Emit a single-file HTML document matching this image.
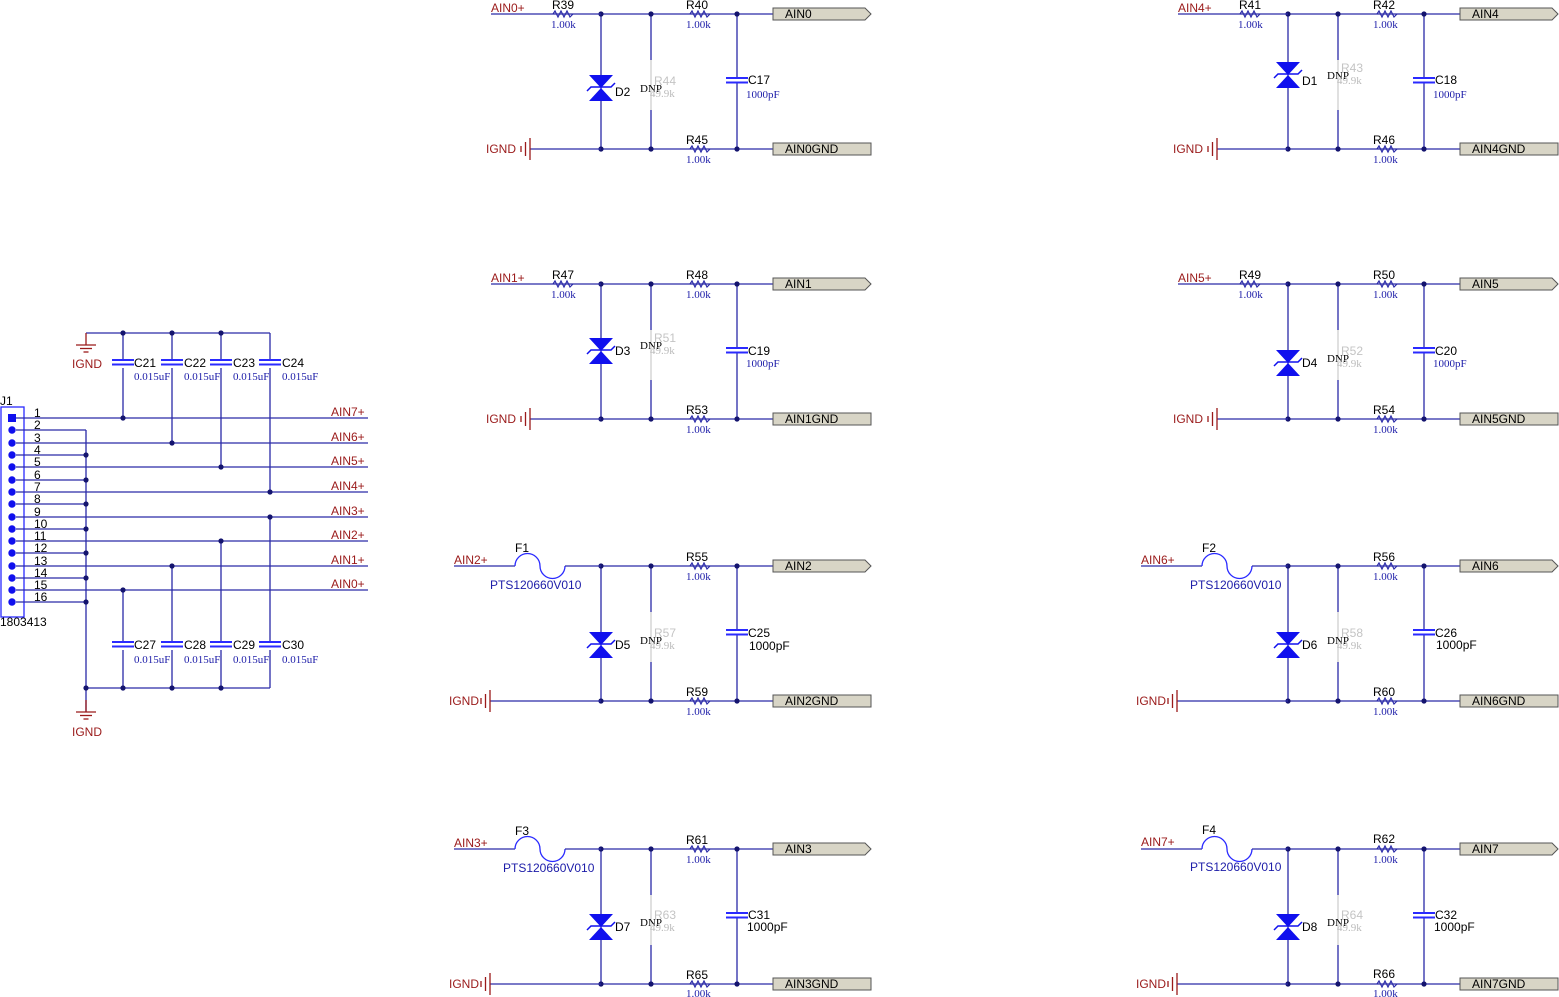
<!DOCTYPE html>
<html><head><meta charset="utf-8"><style>
body{margin:0;background:#fff}
svg{display:block}
text{font-family:"Liberation Sans",sans-serif;font-size:12px;fill:#000}
.r{fill:#9a1a1a}
.v{font-family:"Liberation Serif",serif;font-size:11px;fill:#1c1ca8}
.g{fill:#bbbbbb;font-family:"Liberation Serif",serif;font-size:11px}
.gs{fill:#c4c4c4;font-size:12px}
.d{font-family:"Liberation Serif",serif;font-size:11px}
.w{stroke:#2a2aa8;stroke-width:1.3;fill:none}
</style></head><body>
<svg width="1559" height="997" viewBox="0 0 1559 997" xmlns="http://www.w3.org/2000/svg">
<defs>
<g id="res"><polyline points="-10,0 -8,-3 -5,3 -2,-3 1,3 4,-3 7,3 10,0" fill="none" stroke="#2a2aa8" stroke-width="1.2"/></g>
<g id="dot"><circle r="2.6" fill="#14146e"/></g>
<g id="core">
 <line class="w" x1="601" y1="14" x2="773" y2="14"/>
 <line class="w" x1="601" y1="149" x2="773" y2="149"/>
 <line class="w" x1="601" y1="14" x2="601" y2="149"/>
 <line class="w" x1="651" y1="14" x2="651" y2="60"/>
 <line class="w" x1="651" y1="110" x2="651" y2="149"/>
 <line x1="651" y1="60" x2="651" y2="110" stroke="#d0d0d0" stroke-width="1.3"/>
 <line class="w" x1="737" y1="14" x2="737" y2="78"/>
 <line class="w" x1="737" y1="82" x2="737" y2="149"/>
 <line x1="726" y1="78" x2="748" y2="78" stroke="#2a2aff" stroke-width="2"/>
 <line x1="726" y1="82.5" x2="748" y2="82.5" stroke="#2a2aff" stroke-width="2"/>
 <use href="#res" x="700" y="14"/><use href="#res" x="700" y="149"/>
 <use href="#dot" x="601" y="14"/><use href="#dot" x="651" y="14"/><use href="#dot" x="737" y="14"/>
 <use href="#dot" x="601" y="149"/><use href="#dot" x="651" y="149"/><use href="#dot" x="737" y="149"/>
 <path d="M773,8 H865 L871,14 L865,20 H773 Z" fill="#d8d5c6" stroke="#555" stroke-width="1"/>
 <rect x="773" y="143" width="98" height="12" fill="#d8d5c6" stroke="#555" stroke-width="1"/>
</g>
<g id="rin">
 <line class="w" x1="491" y1="14" x2="601" y2="14"/>
 <use href="#res" x="563" y="14"/>
 <line class="w" x1="530" y1="149" x2="601" y2="149"/>
 <line x1="521" y1="146" x2="521" y2="152" stroke="#9a1a1a" stroke-width="1.3"/>
 <line x1="525.5" y1="142" x2="525.5" y2="156" stroke="#9a1a1a" stroke-width="1.3"/>
 <line x1="530" y1="138" x2="530" y2="160" stroke="#9a1a1a" stroke-width="1.3"/>
</g>
<g id="fin">
 <line class="w" x1="454" y1="14" x2="515" y2="14"/>
 <path d="M515,14 A12.5,12.5 0 0 1 540,14 A12.5,12.5 0 0 0 565,14" fill="none" stroke="#2a2aff" stroke-width="1.3"/>
 <line class="w" x1="565" y1="14" x2="601" y2="14"/>
 <line class="w" x1="490" y1="149" x2="601" y2="149"/>
 <line x1="481" y1="146" x2="481" y2="152" stroke="#9a1a1a" stroke-width="1.3"/>
 <line x1="485.5" y1="142" x2="485.5" y2="156" stroke="#9a1a1a" stroke-width="1.3"/>
 <line x1="490" y1="138" x2="490" y2="160" stroke="#9a1a1a" stroke-width="1.3"/>
</g>
<g id="dio">
 <polygon points="589,-13 613,-13 601,0" fill="#1010ee"/>
 <polygon points="589,13 613,13 601,0" fill="#1010ee"/>
 <polyline points="587,3 591,-1 611,-1 615,-5" fill="none" stroke="#1010ee" stroke-width="1.5"/>
</g>
<g id="gnd">
 <line x1="0" y1="0" x2="0" y2="12" stroke="#9a1a1a" stroke-width="1.3"/>
 <line x1="-10" y1="12" x2="10" y2="12" stroke="#9a1a1a" stroke-width="1.3"/>
 <line x1="-6" y1="15.5" x2="6" y2="15.5" stroke="#9a1a1a" stroke-width="1.3"/>
 <line x1="-2.5" y1="19" x2="2.5" y2="19" stroke="#9a1a1a" stroke-width="1.3"/>
</g>
<g id="cap">
 <line x1="-11" y1="-2" x2="11" y2="-2" stroke="#2a2aff" stroke-width="2"/>
 <line x1="-11" y1="2.5" x2="11" y2="2.5" stroke="#2a2aff" stroke-width="2"/>
</g>
</defs>

<g transform="translate(0,0)">
 <use href="#core"/><use href="#rin"/><use href="#dio" y="88"/>
 <text class="r" x="491" y="12">AIN0+</text><text x="552" y="9">R39</text><text class="v" x="551" y="28">1.00k</text>
 <text x="686" y="9">R40</text><text class="v" x="686" y="28">1.00k</text>
 <text x="615" y="96">D2</text><text class="d" x="640" y="92">DNP</text><text class="gs" x="654" y="85">R44</text><text class="g" x="650" y="97">49.9k</text>
 <text x="748" y="84">C17</text><text class="v" x="746" y="98">1000pF</text>
 <text class="r" x="486" y="153">IGND</text><text x="686" y="144">R45</text><text class="v" x="686" y="163">1.00k</text>
 <text x="785" y="18">AIN0</text><text x="785" y="153">AIN0GND</text>
</g>
<g transform="translate(0,270)">
 <use href="#core"/><use href="#rin"/><use href="#dio" y="81"/>
 <text class="r" x="491" y="12">AIN1+</text><text x="552" y="9">R47</text><text class="v" x="551" y="28">1.00k</text>
 <text x="686" y="9">R48</text><text class="v" x="686" y="28">1.00k</text>
 <text x="615" y="85">D3</text><text class="d" x="640" y="79">DNP</text><text class="gs" x="654" y="72">R51</text><text class="g" x="650" y="84">49.9k</text>
 <text x="748" y="85">C19</text><text class="v" x="746" y="97">1000pF</text>
 <text class="r" x="486" y="153">IGND</text><text x="686" y="144">R53</text><text class="v" x="686" y="163">1.00k</text>
 <text x="785" y="18">AIN1</text><text x="785" y="153">AIN1GND</text>
</g>
<g transform="translate(0,552)">
 <use href="#core"/><use href="#fin"/><use href="#dio" y="93"/>
 <text class="r" x="454" y="12">AIN2+</text><text x="515" y="0">F1</text><text style="fill:#1c1ca8" x="490" y="37">PTS120660V010</text>
 <text x="686" y="9">R55</text><text class="v" x="686" y="28">1.00k</text>
 <text x="615" y="97">D5</text><text class="d" x="640" y="92">DNP</text><text class="gs" x="654" y="85">R57</text><text class="g" x="650" y="97">49.9k</text>
 <text x="748" y="85">C25</text><text x="749" y="98">1000pF</text>
 <text class="r" x="449" y="153">IGND</text><text x="686" y="144">R59</text><text class="v" x="686" y="163">1.00k</text>
 <text x="785" y="18">AIN2</text><text x="785" y="153">AIN2GND</text>
</g>
<g transform="translate(0,835)">
 <use href="#core"/><use href="#fin"/><use href="#dio" y="92"/>
 <text class="r" x="454" y="12">AIN3+</text><text x="515" y="0">F3</text><text style="fill:#1c1ca8" x="503" y="37">PTS120660V010</text>
 <text x="686" y="9">R61</text><text class="v" x="686" y="28">1.00k</text>
 <text x="615" y="96">D7</text><text class="d" x="640" y="91">DNP</text><text class="gs" x="654" y="84">R63</text><text class="g" x="650" y="96">49.9k</text>
 <text x="748" y="84">C31</text><text x="747" y="96">1000pF</text>
 <text class="r" x="449" y="153">IGND</text><text x="686" y="144">R65</text><text class="v" x="686" y="162">1.00k</text>
 <text x="785" y="18">AIN3</text><text x="785" y="153">AIN3GND</text>
</g>

<g transform="translate(687,0)">
 <use href="#core"/><use href="#rin"/><use href="#dio" y="75"/>
 <text class="r" x="491" y="12">AIN4+</text><text x="552" y="9">R41</text><text class="v" x="551" y="28">1.00k</text>
 <text x="686" y="9">R42</text><text class="v" x="686" y="28">1.00k</text>
 <text x="615" y="85">D1</text><text class="d" x="640" y="79">DNP</text><text class="gs" x="654" y="72">R43</text><text class="g" x="650" y="84">49.9k</text>
 <text x="748" y="84">C18</text><text class="v" x="746" y="98">1000pF</text>
 <text class="r" x="486" y="153">IGND</text><text x="686" y="144">R46</text><text class="v" x="686" y="163">1.00k</text>
 <text x="785" y="18">AIN4</text><text x="785" y="153">AIN4GND</text>
</g>
<g transform="translate(687,270)">
 <use href="#core"/><use href="#rin"/><use href="#dio" y="93"/>
 <text class="r" x="491" y="12">AIN5+</text><text x="552" y="9">R49</text><text class="v" x="551" y="28">1.00k</text>
 <text x="686" y="9">R50</text><text class="v" x="686" y="28">1.00k</text>
 <text x="615" y="97">D4</text><text class="d" x="640" y="92">DNP</text><text class="gs" x="654" y="85">R52</text><text class="g" x="650" y="97">49.9k</text>
 <text x="748" y="85">C20</text><text class="v" x="746" y="97">1000pF</text>
 <text class="r" x="486" y="153">IGND</text><text x="686" y="144">R54</text><text class="v" x="686" y="163">1.00k</text>
 <text x="785" y="18">AIN5</text><text x="785" y="153">AIN5GND</text>
</g>
<g transform="translate(687,552)">
 <use href="#core"/><use href="#fin"/><use href="#dio" y="93"/>
 <text class="r" x="454" y="12">AIN6+</text><text x="515" y="0">F2</text><text style="fill:#1c1ca8" x="503" y="37">PTS120660V010</text>
 <text x="686" y="9">R56</text><text class="v" x="686" y="28">1.00k</text>
 <text x="615" y="97">D6</text><text class="d" x="640" y="92">DNP</text><text class="gs" x="654" y="85">R58</text><text class="g" x="650" y="97">49.9k</text>
 <text x="748" y="85">C26</text><text x="749" y="97">1000pF</text>
 <text class="r" x="449" y="153">IGND</text><text x="686" y="144">R60</text><text class="v" x="686" y="163">1.00k</text>
 <text x="785" y="18">AIN6</text><text x="785" y="153">AIN6GND</text>
</g>
<g transform="translate(687,835)">
 <use href="#core"/><use href="#fin"/><use href="#dio" y="92"/>
 <text class="r" x="454" y="11">AIN7+</text><text x="515" y="-1">F4</text><text style="fill:#1c1ca8" x="503" y="36">PTS120660V010</text>
 <text x="686" y="8">R62</text><text class="v" x="686" y="28">1.00k</text>
 <text x="615" y="96">D8</text><text class="d" x="640" y="91">DNP</text><text class="gs" x="654" y="84">R64</text><text class="g" x="650" y="96">49.9k</text>
 <text x="748" y="84">C32</text><text x="747" y="96">1000pF</text>
 <text class="r" x="449" y="153">IGND</text><text x="686" y="143">R66</text><text class="v" x="686" y="162">1.00k</text>
 <text x="785" y="18">AIN7</text><text x="785" y="153">AIN7GND</text>
</g>

<g>
 <rect x="1" y="407" width="23" height="210" fill="none" stroke="#2a2aff" stroke-width="1.3"/>
 <text x="0" y="405">J1</text><text x="0" y="626">1803413</text>
 <rect x="8" y="414" width="8" height="8" fill="#1010ee"/>
 <g fill="#1010ee">
  <circle cx="12" cy="430" r="3.7"/><circle cx="12" cy="443" r="3.7"/><circle cx="12" cy="455" r="3.7"/><circle cx="12" cy="467" r="3.7"/>
  <circle cx="12" cy="480" r="3.7"/><circle cx="12" cy="492" r="3.7"/><circle cx="12" cy="504" r="3.7"/><circle cx="12" cy="517" r="3.7"/>
  <circle cx="12" cy="529" r="3.7"/><circle cx="12" cy="541" r="3.7"/><circle cx="12" cy="553" r="3.7"/><circle cx="12" cy="566" r="3.7"/>
  <circle cx="12" cy="578" r="3.7"/><circle cx="12" cy="590" r="3.7"/><circle cx="12" cy="602" r="3.7"/>
 </g>
 <g style="font-size:11px">
  <text x="34" y="417">1</text><text x="34" y="429">2</text><text x="34" y="442">3</text><text x="34" y="454">4</text>
  <text x="34" y="466">5</text><text x="34" y="479">6</text><text x="34" y="491">7</text><text x="34" y="503">8</text>
  <text x="34" y="516">9</text><text x="34" y="528">10</text><text x="34" y="540">11</text><text x="34" y="552">12</text>
  <text x="34" y="565">13</text><text x="34" y="577">14</text><text x="34" y="589">15</text><text x="34" y="601">16</text>
 </g>
 <g class="w">
  <line x1="16" y1="418" x2="368" y2="418"/><line x1="16" y1="443" x2="368" y2="443"/>
  <line x1="16" y1="467" x2="368" y2="467"/><line x1="16" y1="492" x2="368" y2="492"/>
  <line x1="16" y1="517" x2="368" y2="517"/><line x1="16" y1="541" x2="368" y2="541"/>
  <line x1="16" y1="566" x2="368" y2="566"/><line x1="16" y1="590" x2="368" y2="590"/>
  <line x1="16" y1="430" x2="86" y2="430"/><line x1="16" y1="455" x2="86" y2="455"/>
  <line x1="16" y1="480" x2="86" y2="480"/><line x1="16" y1="504" x2="86" y2="504"/>
  <line x1="16" y1="529" x2="86" y2="529"/><line x1="16" y1="553" x2="86" y2="553"/>
  <line x1="16" y1="578" x2="86" y2="578"/><line x1="16" y1="602" x2="86" y2="602"/>
  <line x1="86" y1="430" x2="86" y2="712"/>
  <line x1="86" y1="688" x2="270" y2="688"/>
  <line x1="86" y1="333" x2="270" y2="333"/>
  <line x1="123" y1="333" x2="123" y2="360"/><line x1="123" y1="368" x2="123" y2="418"/>
  <line x1="172" y1="333" x2="172" y2="360"/><line x1="172" y1="368" x2="172" y2="443"/>
  <line x1="221" y1="333" x2="221" y2="360"/><line x1="221" y1="368" x2="221" y2="467"/>
  <line x1="270" y1="333" x2="270" y2="360"/><line x1="270" y1="368" x2="270" y2="492"/>
  <line x1="123" y1="590" x2="123" y2="642"/><line x1="123" y1="650" x2="123" y2="688"/>
  <line x1="172" y1="566" x2="172" y2="642"/><line x1="172" y1="650" x2="172" y2="688"/>
  <line x1="221" y1="541" x2="221" y2="642"/><line x1="221" y1="650" x2="221" y2="688"/>
  <line x1="270" y1="517" x2="270" y2="642"/><line x1="270" y1="650" x2="270" y2="688"/>
 </g>
 <use href="#gnd" x="86" y="333"/><use href="#gnd" x="86" y="700"/>
 <text class="r" x="72" y="368">IGND</text><text class="r" x="72" y="736">IGND</text>
 <use href="#cap" x="123" y="362"/><use href="#cap" x="172" y="362"/><use href="#cap" x="221" y="362"/><use href="#cap" x="270" y="362"/>
 <use href="#cap" x="123" y="644"/><use href="#cap" x="172" y="644"/><use href="#cap" x="221" y="644"/><use href="#cap" x="270" y="644"/>
 <text x="134" y="367">C21</text><text x="184" y="367">C22</text><text x="233" y="367">C23</text><text x="282" y="367">C24</text>
 <text class="v" x="134" y="380">0.015uF</text><text class="v" x="184" y="380">0.015uF</text><text class="v" x="233" y="380">0.015uF</text><text class="v" x="282" y="380">0.015uF</text>
 <text x="134" y="649">C27</text><text x="184" y="649">C28</text><text x="233" y="649">C29</text><text x="282" y="649">C30</text>
 <text class="v" x="134" y="663">0.015uF</text><text class="v" x="184" y="663">0.015uF</text><text class="v" x="233" y="663">0.015uF</text><text class="v" x="282" y="663">0.015uF</text>
 <text class="r" x="331" y="416">AIN7+</text><text class="r" x="331" y="441">AIN6+</text>
 <text class="r" x="331" y="465">AIN5+</text><text class="r" x="331" y="490">AIN4+</text>
 <text class="r" x="331" y="515">AIN3+</text><text class="r" x="331" y="539">AIN2+</text>
 <text class="r" x="331" y="564">AIN1+</text><text class="r" x="331" y="588">AIN0+</text>
 <use href="#dot" x="123" y="333"/><use href="#dot" x="172" y="333"/><use href="#dot" x="221" y="333"/>
 <use href="#dot" x="123" y="418"/><use href="#dot" x="172" y="443"/><use href="#dot" x="221" y="467"/><use href="#dot" x="270" y="492"/>
 <use href="#dot" x="270" y="517"/><use href="#dot" x="221" y="541"/><use href="#dot" x="172" y="566"/><use href="#dot" x="123" y="590"/>
 <use href="#dot" x="86" y="455"/><use href="#dot" x="86" y="480"/><use href="#dot" x="86" y="504"/><use href="#dot" x="86" y="529"/>
 <use href="#dot" x="86" y="553"/><use href="#dot" x="86" y="578"/><use href="#dot" x="86" y="602"/>
 <use href="#dot" x="86" y="688"/><use href="#dot" x="123" y="688"/><use href="#dot" x="172" y="688"/><use href="#dot" x="221" y="688"/>
</g>
</svg>
</body></html>
